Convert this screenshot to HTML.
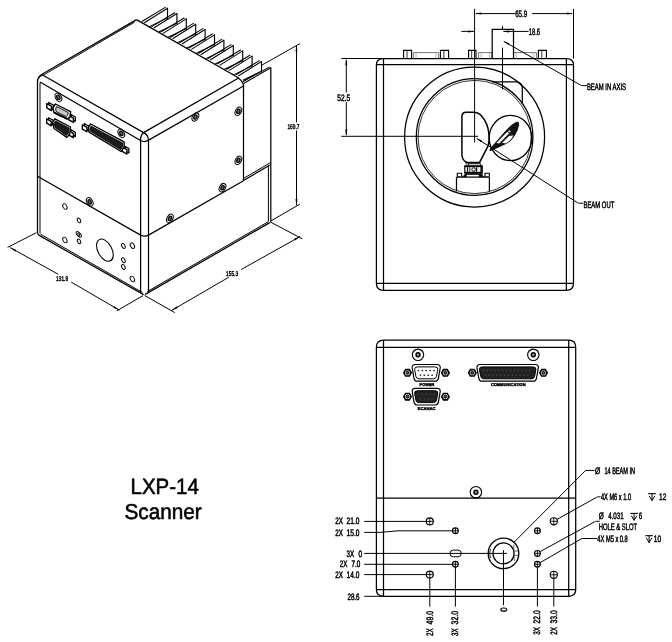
<!DOCTYPE html>
<html><head><meta charset="utf-8"><title>LXP-14 Scanner</title>
<style>
html,body{margin:0;padding:0;background:#fff;}
body{width:672px;height:642px;overflow:hidden;}
svg{display:block;filter:grayscale(1);}
svg text{font-family:"Liberation Sans",sans-serif;fill:#000;text-rendering:geometricPrecision;}
</style></head><body>
<svg width="672" height="642" viewBox="0 0 672 642" stroke-linecap="butt">
<rect x="0" y="0" width="672" height="642" fill="#fff"/>
<g id="iso">
<line x1="37.50" y1="81.00" x2="37.50" y2="232.50" stroke="#000" stroke-width="1.25" />
<line x1="40.00" y1="82.50" x2="40.00" y2="233.50" stroke="#000" stroke-width="1.0" />
<path d="M37.5,81.5 Q37.3,76 43.7,73.3 L136.5,19.6" stroke="#000" stroke-width="1.25" fill="none" />
<path d="M38.6,78.5 Q39.5,76.2 44.2,74.6 L134.5,22.2" stroke="#000" stroke-width="1.0" fill="none" />
<path d="M136.5,19.6 L236.2,76.5 Q241.6,79.6 243.5,85.0 L243.5,180.8" stroke="#000" stroke-width="1.25" fill="none" />
<line x1="43.00" y1="75.20" x2="143.60" y2="132.60" stroke="#000" stroke-width="1.25" />
<line x1="40.00" y1="82.00" x2="140.50" y2="140.50" stroke="#000" stroke-width="1.25" />
<line x1="143.60" y1="132.60" x2="238.60" y2="78.00" stroke="#000" stroke-width="1.25" />
<line x1="148.60" y1="140.10" x2="243.50" y2="86.00" stroke="#000" stroke-width="1.25" />
<path d="M140.5,140.6 Q140.6,134.5 143.8,132.6 Q148.0,134.6 148.6,140.2" stroke="#000" stroke-width="1.25" fill="none" />
<path d="M140.5,140.5 Q144.5,142.8 148.6,140.1" stroke="#000" stroke-width="1.25" fill="none" />
<line x1="140.60" y1="140.50" x2="140.60" y2="293.00" stroke="#000" stroke-width="1.25" />
<line x1="148.50" y1="140.20" x2="148.50" y2="292.60" stroke="#000" stroke-width="1.25" />
<path d="M37.5,176.2 L140.6,235.1 Q144.5,237.2 148.5,235.1 L243.5,180.8" stroke="#000" stroke-width="1.25" fill="none" />
<path d="M243.5,180.5 L269.6,165.2" stroke="#000" stroke-width="1.25" fill="none" />
<path d="M243.5,178.4 L270.8,162.5" stroke="#000" stroke-width="1.0" fill="none" />
<line x1="270.80" y1="67.20" x2="270.80" y2="221.50" stroke="#000" stroke-width="1.25" />
<line x1="268.40" y1="165.60" x2="268.40" y2="221.50" stroke="#000" stroke-width="1.0" />
<path d="M37.5,232.3 Q37.6,234.6 39.6,235.6 L143.6,294.6" stroke="#000" stroke-width="1.25" fill="none" />
<line x1="40.50" y1="234.20" x2="142.40" y2="292.40" stroke="#000" stroke-width="1.0" />
<line x1="145.20" y1="294.40" x2="269.80" y2="222.60" stroke="#000" stroke-width="1.25" />
<line x1="147.40" y1="291.50" x2="268.40" y2="221.70" stroke="#000" stroke-width="1.0" />
<line x1="141.90" y1="21.50" x2="165.70" y2="7.10" stroke="#000" stroke-width="1.05" />
<line x1="144.30" y1="22.70" x2="167.50" y2="8.20" stroke="#000" stroke-width="1.05" />
<line x1="167.50" y1="7.70" x2="167.50" y2="19.00" stroke="#000" stroke-width="1.1500000000000001" />
<line x1="167.50" y1="17.90" x2="148.90" y2="26.90" stroke="#000" stroke-width="1.05" />
<line x1="151.30" y1="26.83" x2="175.10" y2="12.43" stroke="#000" stroke-width="1.05" />
<line x1="153.70" y1="28.03" x2="176.90" y2="13.53" stroke="#000" stroke-width="1.05" />
<line x1="176.90" y1="13.03" x2="176.90" y2="24.33" stroke="#000" stroke-width="1.1500000000000001" />
<line x1="176.90" y1="23.23" x2="158.30" y2="32.23" stroke="#000" stroke-width="1.05" />
<line x1="160.70" y1="32.16" x2="184.50" y2="17.76" stroke="#000" stroke-width="1.05" />
<line x1="163.10" y1="33.36" x2="186.30" y2="18.86" stroke="#000" stroke-width="1.05" />
<line x1="186.30" y1="18.36" x2="186.30" y2="29.66" stroke="#000" stroke-width="1.1500000000000001" />
<line x1="186.30" y1="28.56" x2="167.70" y2="37.56" stroke="#000" stroke-width="1.05" />
<line x1="170.10" y1="37.49" x2="193.90" y2="23.09" stroke="#000" stroke-width="1.05" />
<line x1="172.50" y1="38.69" x2="195.70" y2="24.19" stroke="#000" stroke-width="1.05" />
<line x1="195.70" y1="23.69" x2="195.70" y2="34.99" stroke="#000" stroke-width="1.1500000000000001" />
<line x1="195.70" y1="33.89" x2="177.10" y2="42.89" stroke="#000" stroke-width="1.05" />
<line x1="179.50" y1="42.82" x2="203.30" y2="28.42" stroke="#000" stroke-width="1.05" />
<line x1="181.90" y1="44.02" x2="205.10" y2="29.52" stroke="#000" stroke-width="1.05" />
<line x1="205.10" y1="29.02" x2="205.10" y2="40.32" stroke="#000" stroke-width="1.1500000000000001" />
<line x1="205.10" y1="39.22" x2="186.50" y2="48.22" stroke="#000" stroke-width="1.05" />
<line x1="188.90" y1="48.15" x2="212.70" y2="33.75" stroke="#000" stroke-width="1.05" />
<line x1="191.30" y1="49.35" x2="214.50" y2="34.85" stroke="#000" stroke-width="1.05" />
<line x1="214.50" y1="34.35" x2="214.50" y2="45.65" stroke="#000" stroke-width="1.1500000000000001" />
<line x1="214.50" y1="44.55" x2="195.90" y2="53.55" stroke="#000" stroke-width="1.05" />
<line x1="198.30" y1="53.48" x2="222.10" y2="39.08" stroke="#000" stroke-width="1.05" />
<line x1="200.70" y1="54.68" x2="223.90" y2="40.18" stroke="#000" stroke-width="1.05" />
<line x1="223.90" y1="39.68" x2="223.90" y2="50.98" stroke="#000" stroke-width="1.1500000000000001" />
<line x1="223.90" y1="49.88" x2="205.30" y2="58.88" stroke="#000" stroke-width="1.05" />
<line x1="207.70" y1="58.81" x2="231.50" y2="44.41" stroke="#000" stroke-width="1.05" />
<line x1="210.10" y1="60.01" x2="233.30" y2="45.51" stroke="#000" stroke-width="1.05" />
<line x1="233.30" y1="45.01" x2="233.30" y2="56.31" stroke="#000" stroke-width="1.1500000000000001" />
<line x1="233.30" y1="55.21" x2="214.70" y2="64.21" stroke="#000" stroke-width="1.05" />
<line x1="217.10" y1="64.14" x2="240.90" y2="49.74" stroke="#000" stroke-width="1.05" />
<line x1="219.50" y1="65.34" x2="242.70" y2="50.84" stroke="#000" stroke-width="1.05" />
<line x1="242.70" y1="50.34" x2="242.70" y2="61.64" stroke="#000" stroke-width="1.1500000000000001" />
<line x1="242.70" y1="60.54" x2="224.10" y2="69.54" stroke="#000" stroke-width="1.05" />
<line x1="226.50" y1="69.47" x2="250.30" y2="55.07" stroke="#000" stroke-width="1.05" />
<line x1="228.90" y1="70.67" x2="252.10" y2="56.17" stroke="#000" stroke-width="1.05" />
<line x1="252.10" y1="55.67" x2="252.10" y2="66.97" stroke="#000" stroke-width="1.1500000000000001" />
<line x1="252.10" y1="65.87" x2="233.50" y2="74.87" stroke="#000" stroke-width="1.05" />
<line x1="235.90" y1="74.80" x2="259.70" y2="60.40" stroke="#000" stroke-width="1.05" />
<line x1="238.30" y1="76.00" x2="261.50" y2="61.50" stroke="#000" stroke-width="1.05" />
<line x1="261.50" y1="61.00" x2="261.50" y2="72.30" stroke="#000" stroke-width="1.1500000000000001" />
<line x1="261.50" y1="71.20" x2="242.90" y2="80.20" stroke="#000" stroke-width="1.05" />
<line x1="242.60" y1="81.80" x2="269.50" y2="66.90" stroke="#000" stroke-width="1.05" />
<line x1="243.40" y1="83.50" x2="270.80" y2="67.80" stroke="#000" stroke-width="1.05" />
<ellipse cx="58.40" cy="97.40" rx="2.90" ry="4.50" stroke="#000" stroke-width="1.0" fill="none" transform="rotate(-28 58.40 97.40)"/>
<ellipse cx="58.40" cy="97.40" rx="1.50" ry="2.30" stroke="#000" stroke-width="1.2" fill="#666" transform="rotate(-28 58.40 97.40)"/>
<ellipse cx="121.30" cy="133.40" rx="2.90" ry="4.50" stroke="#000" stroke-width="1.0" fill="none" transform="rotate(-28 121.30 133.40)"/>
<ellipse cx="121.30" cy="133.40" rx="1.50" ry="2.30" stroke="#000" stroke-width="1.2" fill="#666" transform="rotate(-28 121.30 133.40)"/>
<ellipse cx="89.70" cy="201.90" rx="2.90" ry="4.50" stroke="#000" stroke-width="1.0" fill="none" transform="rotate(-28 89.70 201.90)"/>
<ellipse cx="89.70" cy="201.90" rx="1.50" ry="2.30" stroke="#000" stroke-width="1.2" fill="#666" transform="rotate(-28 89.70 201.90)"/>
<ellipse cx="195.40" cy="117.00" rx="2.90" ry="4.50" stroke="#000" stroke-width="1.0" fill="none" transform="rotate(28 195.40 117.00)"/>
<ellipse cx="195.40" cy="117.00" rx="1.50" ry="2.30" stroke="#000" stroke-width="1.2" fill="#666" transform="rotate(28 195.40 117.00)"/>
<ellipse cx="238.40" cy="111.40" rx="2.90" ry="4.50" stroke="#000" stroke-width="1.0" fill="none" transform="rotate(28 238.40 111.40)"/>
<ellipse cx="238.40" cy="111.40" rx="1.50" ry="2.30" stroke="#000" stroke-width="1.2" fill="#666" transform="rotate(28 238.40 111.40)"/>
<ellipse cx="238.40" cy="160.30" rx="2.90" ry="4.50" stroke="#000" stroke-width="1.0" fill="none" transform="rotate(28 238.40 160.30)"/>
<ellipse cx="238.40" cy="160.30" rx="1.50" ry="2.30" stroke="#000" stroke-width="1.2" fill="#666" transform="rotate(28 238.40 160.30)"/>
<ellipse cx="222.50" cy="187.70" rx="2.90" ry="4.50" stroke="#000" stroke-width="1.0" fill="none" transform="rotate(28 222.50 187.70)"/>
<ellipse cx="222.50" cy="187.70" rx="1.50" ry="2.30" stroke="#000" stroke-width="1.2" fill="#666" transform="rotate(28 222.50 187.70)"/>
<ellipse cx="169.90" cy="218.40" rx="2.90" ry="4.50" stroke="#000" stroke-width="1.0" fill="none" transform="rotate(28 169.90 218.40)"/>
<ellipse cx="169.90" cy="218.40" rx="1.50" ry="2.30" stroke="#000" stroke-width="1.2" fill="#666" transform="rotate(28 169.90 218.40)"/>
<ellipse cx="64.90" cy="206.50" rx="1.90" ry="3.00" stroke="#000" stroke-width="0.95" fill="none" transform="rotate(-28 64.90 206.50)"/>
<ellipse cx="64.90" cy="240.00" rx="1.90" ry="3.00" stroke="#000" stroke-width="0.95" fill="none" transform="rotate(-28 64.90 240.00)"/>
<ellipse cx="79.00" cy="220.40" rx="1.50" ry="2.50" stroke="#000" stroke-width="0.95" fill="none" transform="rotate(-28 79.00 220.40)"/>
<ellipse cx="79.00" cy="241.30" rx="1.50" ry="2.50" stroke="#000" stroke-width="0.95" fill="none" transform="rotate(-28 79.00 241.30)"/>
<ellipse cx="123.40" cy="246.00" rx="1.60" ry="2.60" stroke="#000" stroke-width="0.95" fill="none" transform="rotate(-28 123.40 246.00)"/>
<ellipse cx="132.40" cy="245.70" rx="1.90" ry="3.00" stroke="#000" stroke-width="0.95" fill="none" transform="rotate(-28 132.40 245.70)"/>
<ellipse cx="123.40" cy="260.20" rx="1.60" ry="2.60" stroke="#000" stroke-width="0.95" fill="none" transform="rotate(-28 123.40 260.20)"/>
<ellipse cx="123.40" cy="267.00" rx="1.60" ry="2.60" stroke="#000" stroke-width="0.95" fill="none" transform="rotate(-28 123.40 267.00)"/>
<ellipse cx="132.40" cy="279.00" rx="1.90" ry="3.00" stroke="#000" stroke-width="0.95" fill="none" transform="rotate(-28 132.40 279.00)"/>
<ellipse cx="78.00" cy="233.90" rx="1.50" ry="2.50" stroke="#000" stroke-width="0.9" fill="none" transform="rotate(-28 78.00 233.90)"/>
<ellipse cx="79.60" cy="235.00" rx="1.50" ry="2.50" stroke="#000" stroke-width="0.9" fill="none" transform="rotate(-28 79.60 235.00)"/>
<ellipse cx="104.90" cy="250.20" rx="7.00" ry="12.00" stroke="#000" stroke-width="1.05" fill="none" transform="rotate(-28 104.90 250.20)"/>
<path d="M48.70,102.44 L53.30,105.06 L53.30,109.46 L48.70,106.84 Z" stroke="#000" stroke-width="1.3" fill="#fff" stroke-linejoin="round"/>
<path d="M46.80,103.54 L51.40,106.16 L51.40,110.56 L46.80,107.94 Z" stroke="#000" stroke-width="1.4" fill="#fff" stroke-linejoin="round"/>
<path d="M70.70,114.34 L75.30,116.96 L75.30,121.36 L70.70,118.74 Z" stroke="#000" stroke-width="1.3" fill="#fff" stroke-linejoin="round"/>
<path d="M68.80,115.44 L73.40,118.06 L73.40,122.46 L68.80,119.84 Z" stroke="#000" stroke-width="1.4" fill="#fff" stroke-linejoin="round"/>
<path d="M55.40,104.00 L70.60,111.70 L70.00,116.80 L67.40,119.00 L54.00,112.50 L52.80,108.00 Z" stroke="#000" stroke-width="1.4" fill="#fff" stroke-linejoin="round"/>
<path d="M56.60,106.60 L68.20,112.50 L67.60,115.60 L66.20,116.60 L56.40,111.80 L55.60,109.00 Z" stroke="#000" stroke-width="0.9" fill="#c8c8c8" stroke-linejoin="round"/>
<line x1="54.00" y1="112.50" x2="67.40" y2="119.00" stroke="#000" stroke-width="1.8" />
<path d="M48.55,117.69 L53.15,120.31 L53.15,124.71 L48.55,122.09 Z" stroke="#000" stroke-width="1.3" fill="#fff" stroke-linejoin="round"/>
<path d="M46.65,118.79 L51.25,121.41 L51.25,125.81 L46.65,123.19 Z" stroke="#000" stroke-width="1.4" fill="#fff" stroke-linejoin="round"/>
<path d="M70.70,129.59 L75.30,132.21 L75.30,136.61 L70.70,133.99 Z" stroke="#000" stroke-width="1.3" fill="#fff" stroke-linejoin="round"/>
<path d="M68.80,130.69 L73.40,133.31 L73.40,137.71 L68.80,135.09 Z" stroke="#000" stroke-width="1.4" fill="#fff" stroke-linejoin="round"/>
<path d="M54.90,118.80 L70.50,127.00 L69.80,133.70 L66.80,137.40 L54.10,128.50 L52.60,122.50 Z" stroke="#000" stroke-width="1.4" fill="#fff" stroke-linejoin="round"/>
<path d="M55.40,121.00 L69.00,128.00 L68.40,133.00 L66.40,135.40 L55.20,127.40 L54.20,123.40 Z" stroke="#000" stroke-width="0.9" fill="#1c1c1c" stroke-linejoin="round"/>
<path d="M84.25,123.64 L88.85,126.26 L88.85,130.66 L84.25,128.04 Z" stroke="#000" stroke-width="1.3" fill="#fff" stroke-linejoin="round"/>
<path d="M82.35,124.74 L86.95,127.36 L86.95,131.76 L82.35,129.14 Z" stroke="#000" stroke-width="1.4" fill="#fff" stroke-linejoin="round"/>
<path d="M124.25,145.94 L128.85,148.56 L128.85,152.96 L124.25,150.34 Z" stroke="#000" stroke-width="1.3" fill="#fff" stroke-linejoin="round"/>
<path d="M122.35,147.04 L126.95,149.66 L126.95,154.06 L122.35,151.44 Z" stroke="#000" stroke-width="1.4" fill="#fff" stroke-linejoin="round"/>
<path d="M90.60,124.00 L124.10,141.90 L124.10,147.10 L121.10,151.50 L89.10,132.20 L88.40,127.00 Z" stroke="#000" stroke-width="1.4" fill="#fff" stroke-linejoin="round"/>
<path d="M91.00,126.20 L122.60,143.00 L122.60,146.80 L120.60,149.60 L90.40,131.20 L90.00,128.00 Z" stroke="#000" stroke-width="0.9" fill="#1c1c1c" stroke-linejoin="round"/>
<line x1="36.50" y1="232.60" x2="7.60" y2="247.40" stroke="#000" stroke-width="1.0" />
<line x1="143.00" y1="295.60" x2="116.80" y2="310.80" stroke="#000" stroke-width="1.0" />
<line x1="10.20" y1="247.60" x2="58.30" y2="274.30" stroke="#000" stroke-width="1.0" />
<line x1="71.20" y1="282.10" x2="119.40" y2="310.20" stroke="#000" stroke-width="1.0" />
<polygon points="10.20,247.60 16.34,249.95 15.35,251.69" fill="#000"/>
<polygon points="119.40,310.20 113.26,307.85 114.25,306.11" fill="#000"/>
<text x="56.10" y="280.70" font-size="7.0" stroke="#000" stroke-width="0.4" text-anchor="start" font-weight="normal" textLength="12.00" lengthAdjust="spacingAndGlyphs" >131.8</text>
<line x1="144.50" y1="295.40" x2="174.80" y2="312.60" stroke="#000" stroke-width="1.0" />
<line x1="270.00" y1="221.80" x2="302.20" y2="238.80" stroke="#000" stroke-width="1.0" />
<line x1="171.70" y1="310.40" x2="228.70" y2="277.30" stroke="#000" stroke-width="1.0" />
<line x1="241.20" y1="269.50" x2="300.20" y2="236.50" stroke="#000" stroke-width="1.0" />
<polygon points="171.70,310.40 176.84,306.29 177.83,308.03" fill="#000"/>
<polygon points="300.20,236.50 295.06,240.61 294.07,238.87" fill="#000"/>
<text x="226.10" y="275.70" font-size="7.0" stroke="#000" stroke-width="0.4" text-anchor="start" font-weight="normal" textLength="12.00" lengthAdjust="spacingAndGlyphs" >155.3</text>
<line x1="261.20" y1="65.50" x2="299.80" y2="43.70" stroke="#000" stroke-width="1.0" />
<line x1="270.80" y1="221.00" x2="299.80" y2="204.20" stroke="#000" stroke-width="1.0" />
<line x1="296.50" y1="45.40" x2="296.50" y2="122.40" stroke="#000" stroke-width="1.0" />
<line x1="296.50" y1="130.40" x2="296.50" y2="205.40" stroke="#000" stroke-width="1.0" />
<polygon points="296.50,45.00 297.50,51.50 295.50,51.50" fill="#000"/>
<polygon points="296.50,205.60 295.50,199.10 297.50,199.10" fill="#000"/>
<text x="287.40" y="128.90" font-size="7.0" stroke="#000" stroke-width="0.4" text-anchor="start" font-weight="normal" textLength="12.10" lengthAdjust="spacingAndGlyphs" >169.7</text>
</g>
<g id="top">
<path d="M383.5,58.5 L566.4,58.5 Q573.5,58.5 573.5,64.7 L573.5,283.3 Q573.5,290.3 566.4,290.3 L383.5,290.3 Q376.4,290.3 376.4,283.3 L376.4,64.7 Q376.4,58.5 383.5,58.5 Z" stroke="#000" stroke-width="1.25" fill="none" />
<line x1="376.40" y1="64.70" x2="573.50" y2="64.70" stroke="#000" stroke-width="1.25" />
<line x1="376.40" y1="283.30" x2="573.50" y2="283.30" stroke="#000" stroke-width="1.25" />
<line x1="383.50" y1="58.50" x2="383.50" y2="290.30" stroke="#000" stroke-width="1.25" />
<line x1="566.40" y1="58.50" x2="566.40" y2="290.30" stroke="#000" stroke-width="1.25" />
<path d="M403.6,58.5 L403.6,50.4 L411.6,50.4 L411.6,58.5" stroke="#000" stroke-width="1.1" fill="none" />
<line x1="407.00" y1="50.40" x2="407.00" y2="58.50" stroke="#000" stroke-width="0.8" />
<path d="M440.4,58.5 L440.4,50.4 L448.6,50.4 L448.6,58.5" stroke="#000" stroke-width="1.1" fill="none" />
<line x1="443.90" y1="50.40" x2="443.90" y2="58.50" stroke="#000" stroke-width="0.8" />
<path d="M468.6,58.5 L468.6,50.4 L476.0,50.4 L476.0,58.5" stroke="#000" stroke-width="1.1" fill="none" />
<line x1="471.70" y1="50.40" x2="471.70" y2="58.50" stroke="#000" stroke-width="0.8" />
<path d="M538.4,58.5 L538.4,50.4 L546.4,50.4 L546.4,58.5" stroke="#000" stroke-width="1.1" fill="none" />
<line x1="541.80" y1="50.40" x2="541.80" y2="58.50" stroke="#000" stroke-width="0.8" />
<path d="M413.4,58.5 L413.4,52.6 L438.6,52.6 L438.6,58.5" stroke="#777" stroke-width="1.0" fill="none" />
<line x1="416.00" y1="52.60" x2="416.00" y2="58.50" stroke="#999" stroke-width="0.7" />
<line x1="436.00" y1="52.60" x2="436.00" y2="58.50" stroke="#999" stroke-width="0.7" />
<path d="M478.6,58.5 L478.6,52.6 L492.0,52.6 L492.0,58.5" stroke="#777" stroke-width="1.0" fill="none" />
<line x1="481.20" y1="52.60" x2="481.20" y2="58.50" stroke="#999" stroke-width="0.7" />
<line x1="489.40" y1="52.60" x2="489.40" y2="58.50" stroke="#999" stroke-width="0.7" />
<path d="M513.6,58.5 L513.6,52.6 L536.6,52.6 L536.6,58.5" stroke="#777" stroke-width="1.0" fill="none" />
<line x1="516.20" y1="52.60" x2="516.20" y2="58.50" stroke="#999" stroke-width="0.7" />
<line x1="534.00" y1="52.60" x2="534.00" y2="58.50" stroke="#999" stroke-width="0.7" />
<path d="M492.2,58.5 L492.2,29.3 L513.5,29.3 L513.5,58.5" stroke="#000" stroke-width="1.25" fill="none" />
<circle cx="474.60" cy="137.00" r="70.00" stroke="#000" stroke-width="1.25" fill="none"/>
<circle cx="474.60" cy="137.00" r="58.30" stroke="#000" stroke-width="1.25" fill="none"/>
<circle cx="474.60" cy="137.00" r="56.60" stroke="#000" stroke-width="0.8" fill="none"/>
<path d="M492.0,81.8 L517.0,81.8 Q522.0,82.4 522.3,87.6 L522.3,103.8" stroke="#000" stroke-width="1.25" fill="none" />
<path d="M461.9,116.6 Q461.9,112.3 466.3,112.3 L474.6,112.3 C482.5,113.0 488.6,124.6 489.1,136.4 C489.2,141.6 488.6,144.6 487.6,146.8 L479.6,162.4 L466.4,162.4 C463.6,160.6 461.9,157.4 461.9,154.4 Z" stroke="#000" stroke-width="1.5" fill="none" />
<ellipse cx="510.50" cy="138.00" rx="21.30" ry="22.70" stroke="#000" stroke-width="1.25" fill="none"/>
<path d="M489.9,150.6 L490.4,148.8 L506.4,130.3 Q511.6,124.6 515.2,122.9 Q517.2,121.8 518.2,122.3 Q518.9,123.6 518.3,126.2 Q517.6,130.0 515.2,134.1 Q513.4,137.6 510.8,140.3 Q508.4,142.6 504.6,144.2 L496.5,147.9 Q492.6,149.8 489.9,150.6 Z" stroke="#000" stroke-width="0.9" fill="#111" />
<path d="M496.6,142.9 L507.2,132.1 L509.0,133.3 L499.2,143.3 Z" stroke="#fff" stroke-width="0.3" fill="#fff" />
<path d="M502.3,142.7 L508.9,136.2 L513.1,135.6 L511.2,138.9 Q508.8,141.6 505.6,143.2 Z" stroke="#fff" stroke-width="0.3" fill="#fff" />
<path d="M508.3,131.3 L509.6,130.2 L510.6,131.4 L509.4,132.4 Z" stroke="#ddd" stroke-width="0.3" fill="#ddd" />
<path d="M456.5,191.4 L456.5,177.2 M489.4,191.4 L489.4,177.2" stroke="#000" stroke-width="1.25" fill="none" />
<path d="M456.6,177.0 L489.4,177.0" stroke="#000" stroke-width="1.7" fill="none" />
<path d="M457.3,176.6 L457.3,173.3 L461.6,173.3 L461.6,176.6 M485.0,176.6 L485.0,173.3 L489.3,173.3 L489.3,176.6" stroke="#000" stroke-width="1.1" fill="none" />
<path d="M463.4,176.4 L465.4,173.8 L481.6,173.8 L483.0,176.4 Z" stroke="#000" stroke-width="0.8" fill="#111" />
<path d="M466.9,175.0 L478.6,175.0 L478.6,176.3 L466.9,176.3 Z" stroke="#fff" stroke-width="0.3" fill="#fff" />
<path d="M464.6,165.4 L482.4,165.4 L482.4,173.4 L464.6,173.4 Z" stroke="#000" stroke-width="0.6" fill="#fff" />
<path d="M468.4,165.4 L468.4,163.7 L480.6,163.7 L480.6,165.4" stroke="#000" stroke-width="0.9" fill="none" />
<path d="M464.6,166.3 L482.4,166.3" stroke="#000" stroke-width="1.7" fill="none" />
<path d="M464.6,172.7 L482.4,172.7" stroke="#000" stroke-width="1.8" fill="none" />
<path d="M464.9,166.3 L464.9,172.7" stroke="#000" stroke-width="0.9" fill="none" />
<path d="M467.5,167.2 L467.5,171.8" stroke="#000" stroke-width="1.2" fill="none" />
<path d="M469.8,167.2 L469.8,171.8" stroke="#000" stroke-width="0.9" fill="none" />
<path d="M476.6,167.2 L476.6,171.8" stroke="#000" stroke-width="1.2" fill="none" />
<path d="M480.6,166.4 L482.5,166.4 L482.5,172.4 L480.6,172.4 Z" stroke="#000" stroke-width="0.4" fill="#111" />
<circle cx="473.60" cy="169.50" r="1.80" stroke="#000" stroke-width="1.0" fill="none"/>
<path d="M465.4,162.2 L466.6,164.6 M466.0,161.4 L468.8,164.0" stroke="#000" stroke-width="0.9" fill="none" />
<line x1="474.60" y1="8.80" x2="474.60" y2="142.40" stroke="#000" stroke-width="1.0" />
<line x1="573.50" y1="8.80" x2="573.50" y2="58.50" stroke="#000" stroke-width="1.0" />
<line x1="341.20" y1="58.50" x2="384.00" y2="58.50" stroke="#000" stroke-width="1.0" />
<line x1="341.20" y1="136.30" x2="478.00" y2="136.30" stroke="#000" stroke-width="1.0" />
<line x1="346.30" y1="60.00" x2="346.30" y2="92.50" stroke="#000" stroke-width="1.0" />
<line x1="346.30" y1="102.10" x2="346.30" y2="135.00" stroke="#000" stroke-width="1.0" />
<polygon points="346.30,58.70 347.30,65.20 345.30,65.20" fill="#000"/>
<polygon points="346.30,136.10 345.30,129.60 347.30,129.60" fill="#000"/>
<text x="337.30" y="101.00" font-size="9.4" stroke="#000" stroke-width="0.5" text-anchor="start" font-weight="normal" textLength="12.80" lengthAdjust="spacingAndGlyphs" >52.5</text>
<line x1="476.00" y1="13.60" x2="515.20" y2="13.60" stroke="#000" stroke-width="1.0" />
<line x1="532.10" y1="13.60" x2="572.00" y2="13.60" stroke="#000" stroke-width="1.0" />
<polygon points="474.80,13.60 481.30,12.60 481.30,14.60" fill="#000"/>
<polygon points="573.30,13.60 566.80,14.60 566.80,12.60" fill="#000"/>
<text x="515.20" y="17.00" font-size="9.4" stroke="#000" stroke-width="0.5" text-anchor="start" font-weight="normal" textLength="11.90" lengthAdjust="spacingAndGlyphs" >65.9</text>
<line x1="461.40" y1="31.40" x2="474.00" y2="31.40" stroke="#000" stroke-width="1.0" />
<polygon points="474.60,31.40 468.10,32.40 468.10,30.40" fill="#000"/>
<line x1="503.50" y1="31.40" x2="528.70" y2="31.40" stroke="#000" stroke-width="1.0" />
<polygon points="502.50,31.40 509.00,30.40 509.00,32.40" fill="#000"/>
<text x="528.75" y="34.80" font-size="9.4" stroke="#000" stroke-width="0.5" text-anchor="start" font-weight="normal" textLength="11.25" lengthAdjust="spacingAndGlyphs" >18.6</text>
<line x1="502.50" y1="26.20" x2="502.50" y2="29.80" stroke="#000" stroke-width="1.0" />
<line x1="502.50" y1="47.60" x2="502.50" y2="89.30" stroke="#000" stroke-width="1.0" />
<path d="M504.0,41.5 L580.6,85.1 Q581.6,85.6 582.6,85.6 L586.9,85.6" stroke="#000" stroke-width="1.0" fill="none" />
<polygon points="503.20,41.00 509.35,43.34 508.36,45.08" fill="#000"/>
<text x="586.90" y="89.70" font-size="9.4" stroke="#000" stroke-width="0.5" text-anchor="start" font-weight="normal" textLength="39.10" lengthAdjust="spacingAndGlyphs" >BEAM IN AXIS</text>
<path d="M477.0,138.6 L577.4,202.6 Q578.4,203.2 579.4,203.2 L583.2,203.2" stroke="#000" stroke-width="1.0" fill="none" />
<polygon points="476.00,137.90 482.03,140.54 480.95,142.23" fill="#000"/>
<text x="583.50" y="207.60" font-size="9.4" stroke="#000" stroke-width="0.5" text-anchor="start" font-weight="normal" textLength="30.80" lengthAdjust="spacingAndGlyphs" >BEAM OUT</text>
</g>
<g id="front">
<path d="M383.5,340.0 L568.7,340.0 Q575.7,340.0 575.7,347.4 L575.7,589.6 Q575.7,596.3 568.7,596.3 L383.5,596.3 Q376.4,596.3 376.4,589.6 L376.4,347.4 Q376.4,340.0 383.5,340.0 Z" stroke="#000" stroke-width="1.25" fill="none" />
<line x1="376.40" y1="347.40" x2="575.70" y2="347.40" stroke="#000" stroke-width="1.25" />
<line x1="376.40" y1="589.60" x2="575.70" y2="589.60" stroke="#000" stroke-width="1.25" />
<line x1="383.50" y1="340.00" x2="383.50" y2="596.30" stroke="#000" stroke-width="1.25" />
<line x1="568.70" y1="340.00" x2="568.70" y2="596.30" stroke="#000" stroke-width="1.25" />
<line x1="376.40" y1="498.10" x2="575.70" y2="498.10" stroke="#000" stroke-width="1.25" />
<circle cx="418.00" cy="354.80" r="5.70" stroke="#000" stroke-width="1.15" fill="none"/>
<circle cx="418.00" cy="354.80" r="2.00" stroke="#000" stroke-width="1.4" fill="#999"/>
<circle cx="533.30" cy="354.80" r="5.70" stroke="#000" stroke-width="1.15" fill="none"/>
<circle cx="533.30" cy="354.80" r="2.00" stroke="#000" stroke-width="1.4" fill="#999"/>
<circle cx="475.90" cy="492.20" r="5.70" stroke="#000" stroke-width="1.15" fill="none"/>
<circle cx="475.90" cy="492.20" r="2.00" stroke="#000" stroke-width="1.4" fill="#999"/>
<polygon points="411.20,372.85 409.35,376.05 405.65,376.05 403.80,372.85 405.65,369.65 409.35,369.65" fill="#fff" stroke="#000" stroke-width="1.6"/>
<circle cx="407.50" cy="372.85" r="1.50" stroke="#000" stroke-width="1.0" fill="#555"/>
<polygon points="449.10,372.85 447.25,376.05 443.55,376.05 441.70,372.85 443.55,369.65 447.25,369.65" fill="#fff" stroke="#000" stroke-width="1.6"/>
<circle cx="445.40" cy="372.85" r="1.50" stroke="#000" stroke-width="1.0" fill="#555"/>
<path d="M415.29999999999995,364.5 L437.1,364.5 Q440.5,364.5 440.2,367.9 L438.5,377.8 Q437.9,381.2 434.9,381.2 L417.5,381.2 Q414.5,381.2 413.9,377.8 L412.2,367.9 Q411.9,364.5 415.29999999999995,364.5 Z" stroke="#000" stroke-width="1.2" fill="#fff" />
<path d="M417.69999999999993,366.9 L434.70000000000005,366.9 Q438.1,366.9 437.8,369.29999999999995 L436.5,376.40000000000003 Q435.90000000000003,378.8 433.5,378.8 L418.9,378.8 Q416.49999999999994,378.8 415.9,376.40000000000003 L414.59999999999997,369.29999999999995 Q414.29999999999995,366.9 417.69999999999993,366.9 Z" stroke="#000" stroke-width="1.0" fill="#fff" />
<text x="419.60" y="386.40" font-size="4.2" stroke="#000" stroke-width="0.4" text-anchor="start" font-weight="bold" textLength="14.80" lengthAdjust="spacingAndGlyphs" >POWER</text>
<circle cx="418.40" cy="370.60" r="0.55" stroke="#000" stroke-width="0.5" fill="#000"/>
<circle cx="422.30" cy="370.60" r="0.55" stroke="#000" stroke-width="0.5" fill="#000"/>
<circle cx="426.20" cy="370.60" r="0.55" stroke="#000" stroke-width="0.5" fill="#000"/>
<circle cx="430.10" cy="370.60" r="0.55" stroke="#000" stroke-width="0.5" fill="#000"/>
<circle cx="434.00" cy="370.60" r="0.55" stroke="#000" stroke-width="0.5" fill="#000"/>
<circle cx="420.40" cy="375.20" r="0.55" stroke="#000" stroke-width="0.5" fill="#000"/>
<circle cx="424.30" cy="375.20" r="0.55" stroke="#000" stroke-width="0.5" fill="#000"/>
<circle cx="428.20" cy="375.20" r="0.55" stroke="#000" stroke-width="0.5" fill="#000"/>
<circle cx="432.10" cy="375.20" r="0.55" stroke="#000" stroke-width="0.5" fill="#000"/>
<polygon points="411.20,396.65 409.35,399.85 405.65,399.85 403.80,396.65 405.65,393.45 409.35,393.45" fill="#fff" stroke="#000" stroke-width="1.6"/>
<circle cx="407.50" cy="396.65" r="1.50" stroke="#000" stroke-width="1.0" fill="#555"/>
<polygon points="449.10,396.65 447.25,399.85 443.55,399.85 441.70,396.65 443.55,393.45 447.25,393.45" fill="#fff" stroke="#000" stroke-width="1.6"/>
<circle cx="445.40" cy="396.65" r="1.50" stroke="#000" stroke-width="1.0" fill="#555"/>
<path d="M415.29999999999995,388.3 L437.1,388.3 Q440.5,388.3 440.2,391.7 L438.5,401.6 Q437.9,405.0 434.9,405.0 L417.5,405.0 Q414.5,405.0 413.9,401.6 L412.2,391.7 Q411.9,388.3 415.29999999999995,388.3 Z" stroke="#000" stroke-width="1.2" fill="#fff" />
<path d="M417.69999999999993,390.7 L434.70000000000005,390.7 Q438.1,390.7 437.8,393.09999999999997 L436.5,400.20000000000005 Q435.90000000000003,402.6 433.5,402.6 L418.9,402.6 Q416.49999999999994,402.6 415.9,400.20000000000005 L414.59999999999997,393.09999999999997 Q414.29999999999995,390.7 417.69999999999993,390.7 Z" stroke="#000" stroke-width="1.0" fill="#222" />
<text x="417.60" y="410.20" font-size="4.2" stroke="#000" stroke-width="0.4" text-anchor="start" font-weight="bold" textLength="18.00" lengthAdjust="spacingAndGlyphs" >SCANAC</text>
<polygon points="476.00,372.85 474.15,376.05 470.45,376.05 468.60,372.85 470.45,369.65 474.15,369.65" fill="#fff" stroke="#000" stroke-width="1.6"/>
<circle cx="472.30" cy="372.85" r="1.50" stroke="#000" stroke-width="1.0" fill="#555"/>
<polygon points="547.20,372.85 545.35,376.05 541.65,376.05 539.80,372.85 541.65,369.65 545.35,369.65" fill="#fff" stroke="#000" stroke-width="1.6"/>
<circle cx="543.50" cy="372.85" r="1.50" stroke="#000" stroke-width="1.0" fill="#555"/>
<path d="M480.09999999999997,364.5 L535.2,364.5 Q538.6,364.5 538.3000000000001,367.9 L536.6,377.8 Q536.0,381.2 533.0,381.2 L482.3,381.2 Q479.3,381.2 478.7,377.8 L477.0,367.9 Q476.7,364.5 480.09999999999997,364.5 Z" stroke="#000" stroke-width="1.2" fill="#fff" />
<path d="M482.49999999999994,366.9 L532.8000000000001,366.9 Q536.2,366.9 535.9000000000001,369.29999999999995 L534.6,376.40000000000003 Q534.0,378.8 531.6,378.8 L483.7,378.8 Q481.29999999999995,378.8 480.7,376.40000000000003 L479.4,369.29999999999995 Q479.09999999999997,366.9 482.49999999999994,366.9 Z" stroke="#000" stroke-width="1.0" fill="#222" />
<text x="491.00" y="386.40" font-size="4.2" stroke="#000" stroke-width="0.4" text-anchor="start" font-weight="bold" textLength="34.60" lengthAdjust="spacingAndGlyphs" >COMMUNICATION</text>
<path d="M418,394.4 H434.6 M420,399 H432.6" stroke="#777" stroke-width="0.8" stroke-dasharray="0.8 3.1" fill="none"/>
<path d="M483,370.4 H532.6" stroke="#888" stroke-width="0.8" stroke-dasharray="0.8 3.05" fill="none"/>
<path d="M485,375.2 H530.6" stroke="#888" stroke-width="0.8" stroke-dasharray="0.8 3.05" fill="none"/>
<circle cx="503.50" cy="553.40" r="15.30" stroke="#000" stroke-width="1.3" fill="none"/>
<circle cx="503.50" cy="553.40" r="10.50" stroke="#000" stroke-width="1.2" fill="none"/>
<path d="M490.50,548.80 A13.6,13.6 0 0 0 490.50,558.00" stroke="#000" stroke-width="0.8" fill="none" />
<path d="M513.70,544.60 L514.30,561.00 M514.50,551.00 L518.50,551.00 M514.50,555.40 L518.50,555.40" stroke="#444" stroke-width="0.8" fill="none" />
<circle cx="429.80" cy="521.40" r="3.50" stroke="#000" stroke-width="1.15" fill="none"/>
<line x1="426.30" y1="521.40" x2="433.30" y2="521.40" stroke="#000" stroke-width="0.9" />
<line x1="429.80" y1="517.90" x2="429.80" y2="524.90" stroke="#000" stroke-width="0.9" />
<circle cx="455.40" cy="530.80" r="2.90" stroke="#000" stroke-width="1.15" fill="none"/>
<line x1="452.50" y1="530.80" x2="458.30" y2="530.80" stroke="#000" stroke-width="0.9" />
<line x1="455.40" y1="527.90" x2="455.40" y2="533.70" stroke="#000" stroke-width="0.9" />
<circle cx="455.40" cy="564.30" r="2.90" stroke="#000" stroke-width="1.15" fill="none"/>
<line x1="452.50" y1="564.30" x2="458.30" y2="564.30" stroke="#000" stroke-width="0.9" />
<line x1="455.40" y1="561.40" x2="455.40" y2="567.20" stroke="#000" stroke-width="0.9" />
<circle cx="429.80" cy="574.60" r="3.50" stroke="#000" stroke-width="1.15" fill="none"/>
<line x1="426.30" y1="574.60" x2="433.30" y2="574.60" stroke="#000" stroke-width="0.9" />
<line x1="429.80" y1="571.10" x2="429.80" y2="578.10" stroke="#000" stroke-width="0.9" />
<circle cx="553.80" cy="521.30" r="3.60" stroke="#000" stroke-width="1.15" fill="none"/>
<line x1="550.20" y1="521.30" x2="557.40" y2="521.30" stroke="#000" stroke-width="0.9" />
<line x1="553.80" y1="517.70" x2="553.80" y2="524.90" stroke="#000" stroke-width="0.9" />
<circle cx="537.40" cy="530.80" r="2.90" stroke="#000" stroke-width="1.15" fill="none"/>
<line x1="534.50" y1="530.80" x2="540.30" y2="530.80" stroke="#000" stroke-width="0.9" />
<line x1="537.40" y1="527.90" x2="537.40" y2="533.70" stroke="#000" stroke-width="0.9" />
<circle cx="537.40" cy="553.40" r="2.90" stroke="#000" stroke-width="1.15" fill="none"/>
<line x1="534.50" y1="553.40" x2="540.30" y2="553.40" stroke="#000" stroke-width="0.9" />
<line x1="537.40" y1="550.50" x2="537.40" y2="556.30" stroke="#000" stroke-width="0.9" />
<circle cx="537.40" cy="564.30" r="2.90" stroke="#000" stroke-width="1.15" fill="none"/>
<line x1="534.50" y1="564.30" x2="540.30" y2="564.30" stroke="#000" stroke-width="0.9" />
<line x1="537.40" y1="561.40" x2="537.40" y2="567.20" stroke="#000" stroke-width="0.9" />
<circle cx="553.80" cy="574.80" r="3.60" stroke="#000" stroke-width="1.15" fill="none"/>
<line x1="550.20" y1="574.80" x2="557.40" y2="574.80" stroke="#000" stroke-width="0.9" />
<line x1="553.80" y1="571.20" x2="553.80" y2="578.40" stroke="#000" stroke-width="0.9" />
<rect x="450.0" y="550.1" width="11.3" height="6.7" rx="3.35" ry="3.35" fill="none" stroke="#000" stroke-width="1.0"/>
<line x1="364.20" y1="521.40" x2="426.30" y2="521.40" stroke="#000" stroke-width="1.0" />
<path d="M364.2,532.4 L380,532.4 L398,530.8 L452.4,530.8" stroke="#000" stroke-width="1.0" fill="none" />
<line x1="364.20" y1="553.40" x2="506.80" y2="553.40" stroke="#000" stroke-width="1.0" />
<line x1="364.20" y1="564.30" x2="452.40" y2="564.30" stroke="#000" stroke-width="1.0" />
<line x1="364.20" y1="574.60" x2="426.30" y2="574.60" stroke="#000" stroke-width="1.0" />
<line x1="364.20" y1="596.30" x2="383.50" y2="596.30" stroke="#000" stroke-width="1.0" />
<text x="335.20" y="524.40" font-size="9.4" stroke="#000" stroke-width="0.5" text-anchor="start" font-weight="normal" textLength="7.60" lengthAdjust="spacingAndGlyphs" >2X</text>
<text x="346.60" y="524.40" font-size="9.4" stroke="#000" stroke-width="0.5" text-anchor="start" font-weight="normal" textLength="12.80" lengthAdjust="spacingAndGlyphs" >21.0</text>
<text x="335.20" y="535.50" font-size="9.4" stroke="#000" stroke-width="0.5" text-anchor="start" font-weight="normal" textLength="7.60" lengthAdjust="spacingAndGlyphs" >2X</text>
<text x="346.60" y="535.50" font-size="9.4" stroke="#000" stroke-width="0.5" text-anchor="start" font-weight="normal" textLength="12.80" lengthAdjust="spacingAndGlyphs" >15.0</text>
<text x="346.60" y="556.60" font-size="9.4" stroke="#000" stroke-width="0.5" text-anchor="start" font-weight="normal" textLength="7.60" lengthAdjust="spacingAndGlyphs" >3X</text>
<text x="358.60" y="556.60" font-size="9.4" stroke="#000" stroke-width="0.5" text-anchor="start" font-weight="normal" textLength="3.70" lengthAdjust="spacingAndGlyphs" >0</text>
<text x="339.80" y="567.30" font-size="9.4" stroke="#000" stroke-width="0.5" text-anchor="start" font-weight="normal" textLength="7.60" lengthAdjust="spacingAndGlyphs" >2X</text>
<text x="351.40" y="567.30" font-size="9.4" stroke="#000" stroke-width="0.5" text-anchor="start" font-weight="normal" textLength="8.80" lengthAdjust="spacingAndGlyphs" >7.0</text>
<text x="335.20" y="577.70" font-size="9.4" stroke="#000" stroke-width="0.5" text-anchor="start" font-weight="normal" textLength="7.60" lengthAdjust="spacingAndGlyphs" >2X</text>
<text x="346.60" y="577.70" font-size="9.4" stroke="#000" stroke-width="0.5" text-anchor="start" font-weight="normal" textLength="12.80" lengthAdjust="spacingAndGlyphs" >14.0</text>
<text x="347.40" y="599.70" font-size="9.4" stroke="#000" stroke-width="0.5" text-anchor="start" font-weight="normal" textLength="12.20" lengthAdjust="spacingAndGlyphs" >28.6</text>
<line x1="429.80" y1="578.10" x2="429.80" y2="606.60" stroke="#000" stroke-width="1.0" />
<line x1="455.40" y1="567.20" x2="455.40" y2="606.60" stroke="#000" stroke-width="1.0" />
<line x1="503.50" y1="550.20" x2="503.50" y2="605.30" stroke="#000" stroke-width="1.0" />
<line x1="537.40" y1="567.20" x2="537.40" y2="606.50" stroke="#000" stroke-width="1.0" />
<line x1="553.80" y1="578.40" x2="553.80" y2="606.50" stroke="#000" stroke-width="1.0" />
<text x="432.80" y="636.00" font-size="9.4" stroke="#000" stroke-width="0.5" text-anchor="start" font-weight="normal" textLength="7.60" lengthAdjust="spacingAndGlyphs" transform="rotate(-90 432.80 636.00)" >2X</text>
<text x="432.80" y="624.40" font-size="9.4" stroke="#000" stroke-width="0.5" text-anchor="start" font-weight="normal" textLength="13.40" lengthAdjust="spacingAndGlyphs" transform="rotate(-90 432.80 624.40)" >49.0</text>
<text x="458.40" y="636.00" font-size="9.4" stroke="#000" stroke-width="0.5" text-anchor="start" font-weight="normal" textLength="7.60" lengthAdjust="spacingAndGlyphs" transform="rotate(-90 458.40 636.00)" >3X</text>
<text x="458.40" y="624.40" font-size="9.4" stroke="#000" stroke-width="0.5" text-anchor="start" font-weight="normal" textLength="13.40" lengthAdjust="spacingAndGlyphs" transform="rotate(-90 458.40 624.40)" >32.0</text>
<text x="506.90" y="611.80" font-size="9.4" stroke="#000" stroke-width="0.5" text-anchor="start" font-weight="normal" textLength="4.40" lengthAdjust="spacingAndGlyphs" transform="rotate(-90 506.90 611.80)" >0</text>
<text x="540.40" y="634.80" font-size="9.4" stroke="#000" stroke-width="0.5" text-anchor="start" font-weight="normal" textLength="7.60" lengthAdjust="spacingAndGlyphs" transform="rotate(-90 540.40 634.80)" >3X</text>
<text x="540.40" y="623.40" font-size="9.4" stroke="#000" stroke-width="0.5" text-anchor="start" font-weight="normal" textLength="13.00" lengthAdjust="spacingAndGlyphs" transform="rotate(-90 540.40 623.40)" >22.0</text>
<text x="556.80" y="634.80" font-size="9.4" stroke="#000" stroke-width="0.5" text-anchor="start" font-weight="normal" textLength="7.60" lengthAdjust="spacingAndGlyphs" transform="rotate(-90 556.80 634.80)" >2X</text>
<text x="556.80" y="623.40" font-size="9.4" stroke="#000" stroke-width="0.5" text-anchor="start" font-weight="normal" textLength="13.00" lengthAdjust="spacingAndGlyphs" transform="rotate(-90 556.80 623.40)" >33.0</text>
<path d="M513.7,542.6 L585.7,470.4 L594.6,470.4" stroke="#000" stroke-width="1.0" fill="none" />
<text x="594.90" y="474.00" font-size="9.4" stroke="#000" stroke-width="0.5" text-anchor="start" font-weight="normal" textLength="5.20" lengthAdjust="spacingAndGlyphs" >Ø</text>
<text x="604.40" y="474.00" font-size="9.4" stroke="#000" stroke-width="0.5" text-anchor="start" font-weight="normal" textLength="30.70" lengthAdjust="spacingAndGlyphs" >14 BEAM IN</text>
<path d="M557.0,519.4 L596.4,497.4 Q597.6,496.8 598.6,496.8 L600.6,496.8" stroke="#000" stroke-width="1.0" fill="none" />
<text x="600.90" y="499.70" font-size="9.4" stroke="#000" stroke-width="0.5" text-anchor="start" font-weight="normal" textLength="30.20" lengthAdjust="spacingAndGlyphs" >4X M6 x 1.0</text>
<text x="659.10" y="499.70" font-size="9.4" stroke="#000" stroke-width="0.5" text-anchor="start" font-weight="normal" textLength="7.30" lengthAdjust="spacingAndGlyphs" >12</text>
<path d="M540.2,551.6 L594.6,521.8 Q595.6,521.3 596.6,521.3 L599.8,521.3" stroke="#000" stroke-width="1.0" fill="none" />
<text x="598.70" y="518.60" font-size="9.4" stroke="#000" stroke-width="0.5" text-anchor="start" font-weight="normal" textLength="5.00" lengthAdjust="spacingAndGlyphs" >Ø</text>
<text x="608.20" y="518.60" font-size="9.4" stroke="#000" stroke-width="0.5" text-anchor="start" font-weight="normal" textLength="15.40" lengthAdjust="spacingAndGlyphs" >4.031</text>
<text x="638.80" y="518.60" font-size="9.4" stroke="#000" stroke-width="0.5" text-anchor="start" font-weight="normal" textLength="3.40" lengthAdjust="spacingAndGlyphs" >6</text>
<text x="598.70" y="529.70" font-size="9.4" stroke="#000" stroke-width="0.5" text-anchor="start" font-weight="normal" textLength="38.30" lengthAdjust="spacingAndGlyphs" >HOLE &amp; SLOT</text>
<path d="M540.2,562.6 L581.8,538.5 L597.2,538.5" stroke="#000" stroke-width="1.0" fill="none" />
<text x="597.30" y="541.70" font-size="9.4" stroke="#000" stroke-width="0.5" text-anchor="start" font-weight="normal" textLength="30.50" lengthAdjust="spacingAndGlyphs" >4X M5 x 0.8</text>
<text x="653.80" y="541.70" font-size="9.4" stroke="#000" stroke-width="0.5" text-anchor="start" font-weight="normal" textLength="7.30" lengthAdjust="spacingAndGlyphs" >10</text>
<line x1="648.20" y1="493.70" x2="655.80" y2="493.70" stroke="#000" stroke-width="1.1" />
<line x1="652.00" y1="493.70" x2="652.00" y2="500.60" stroke="#000" stroke-width="1.0" />
<path d="M649.20,495.90 L652.00,500.60 L654.80,495.90" stroke="#000" stroke-width="1.0" fill="none" />
<line x1="630.30" y1="513.40" x2="637.90" y2="513.40" stroke="#000" stroke-width="1.1" />
<line x1="634.10" y1="513.40" x2="634.10" y2="520.30" stroke="#000" stroke-width="1.0" />
<path d="M631.30,515.60 L634.10,520.30 L636.90,515.60" stroke="#000" stroke-width="1.0" fill="none" />
<line x1="645.30" y1="535.70" x2="652.90" y2="535.70" stroke="#000" stroke-width="1.1" />
<line x1="649.10" y1="535.70" x2="649.10" y2="542.60" stroke="#000" stroke-width="1.0" />
<path d="M646.30,537.90 L649.10,542.60 L651.90,537.90" stroke="#000" stroke-width="1.0" fill="none" />
</g>
<g id="title">
<text x="130.60" y="493.50" font-size="22.2" stroke="#000" stroke-width="0.55" text-anchor="start" font-weight="normal" textLength="68.20" lengthAdjust="spacingAndGlyphs" >LXP-14</text>
<text x="124.40" y="519.40" font-size="21.6" stroke="#000" stroke-width="0.55" text-anchor="start" font-weight="normal" textLength="77.40" lengthAdjust="spacingAndGlyphs" >Scanner</text>
</g>
</svg>
</body></html>
